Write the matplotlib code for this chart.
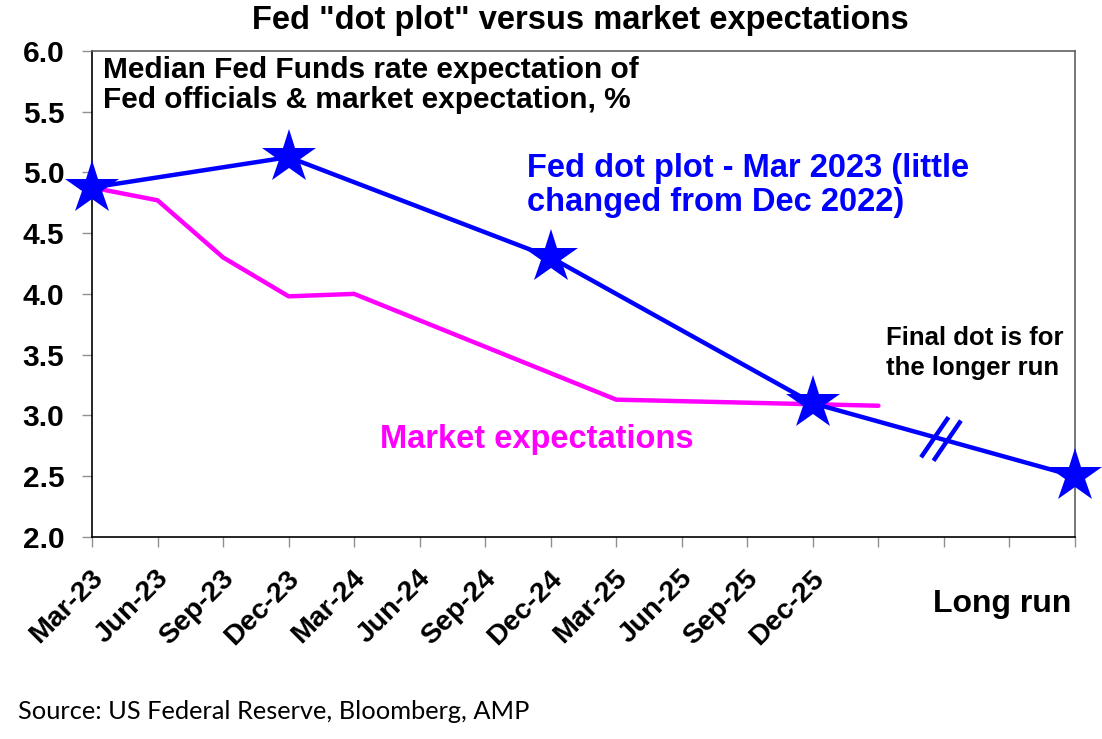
import matplotlib
matplotlib.use("Agg")
import matplotlib.pyplot as plt
import matplotlib.transforms as mtransforms
import numpy as np

# Quarter positions: 0 = Mar-23 ... 11 = Dec-25, 15 = long run
tick_labels = ["Mar-23", "Jun-23", "Sep-23", "Dec-23", "Mar-24", "Jun-24",
               "Sep-24", "Dec-24", "Mar-25", "Jun-25", "Sep-25", "Dec-25"]
n_ticks = 16

fed_x = [0, 3, 7, 11, 15]
fed_dots = [4.875, 5.125, 4.3, 3.1, 2.5]

market_x = [0, 1, 2, 3, 4, 8, 12]
market_exp = [4.875, 4.77, 4.30, 3.98, 4.00, 3.13, 3.08]

BLUE = "#0000FF"
MAGENTA = "#FF00FF"


def main():
    plt.rcParams['font.family'] = ['Liberation Sans', 'DejaVu Sans']

    fig = plt.figure(figsize=(11.02, 7.39), dpi=100)
    ax = fig.add_axes([0.0835, 0.2733, 0.892, 0.658])

    ax.plot(market_x, market_exp, color=MAGENTA, lw=3.2, solid_capstyle='round',
            zorder=2)
    ax.plot(fed_x, fed_dots, color=BLUE, lw=3.2, marker='*', markersize=41,
            markeredgewidth=0, zorder=3, clip_on=False)

    # Axis break marks on the segment to the long-run dot
    for bx in (12.86, 13.05):
        by = np.interp(bx, fed_x, fed_dots)
        ax.plot([bx - 0.19, bx + 0.19], [by - 0.15, by + 0.15], color=BLUE,
                lw=3.2, zorder=3)

    ax.set_xlim(0, n_ticks - 1)
    ax.set_ylim(2.0, 6.0)
    ax.set_yticks(np.arange(2.0, 6.01, 0.5))
    ax.set_yticklabels([f"{v:.1f}" for v in np.arange(2.0, 6.01, 0.5)],
                       fontsize=21.5, fontweight='bold')
    ax.set_xticks(range(n_ticks))
    ax.set_xticklabels(tick_labels + [""] * (n_ticks - len(tick_labels)),
                       fontsize=20.5, fontweight='bold', rotation=45,
                       ha='right', va='center', rotation_mode='anchor')
    ax.tick_params(axis='both', direction='out', length=7, width=1,
                   color='#909090')
    ax.tick_params(axis='y', pad=13)
    ax.tick_params(axis='x', pad=20)

    # nudge the rotated month labels a little to the right
    shift = mtransforms.ScaledTranslation(0.07, 0, fig.dpi_scale_trans)
    for lbl in ax.get_xticklabels():
        lbl.set_transform(lbl.get_transform() + shift)

    for side in ('top', 'right'):
        ax.spines[side].set_color('#606060')
    for side in ('left', 'bottom'):
        ax.spines[side].set_color('black')
    for s in ax.spines.values():
        s.set_linewidth(1.2)

    fig.text(0.527, 0.972, 'Fed "dot plot" versus market expectations',
             ha='center', va='center', fontsize=23.5, fontweight='bold')
    ax.text(0.011, 0.99,
            "Median Fed Funds rate expectation of\nFed officials & market expectation, %",
            transform=ax.transAxes, ha='left', va='top', fontsize=21.5,
            fontweight='bold', linespacing=1.12)
    ax.text(0.4425, 0.79, "Fed dot plot - Mar 2023 (little\nchanged from Dec 2022)",
            transform=ax.transAxes, ha='left', va='top', fontsize=23.5,
            fontweight='bold', color=BLUE, linespacing=1.12)
    ax.text(0.808, 0.435, "Final dot is for\nthe longer run",
            transform=ax.transAxes, ha='left', va='top', fontsize=18.5,
            fontweight='bold', linespacing=1.35)
    ax.text(0.293, 0.2, "Market expectations", transform=ax.transAxes,
            ha='left', va='center', fontsize=23.5, fontweight='bold',
            color=MAGENTA)
    fig.text(0.972, 0.183, "Long run", ha='right', va='center', fontsize=23,
             fontweight='bold')
    fig.text(0.016, 0.037, "Source: US Federal Reserve, Bloomberg, AMP",
             ha='left', va='center', fontsize=18.3, family=['Lato', 'DejaVu Sans'])

    fig.savefig("out.png", dpi=100)


if __name__ == "__main__":
    main()
